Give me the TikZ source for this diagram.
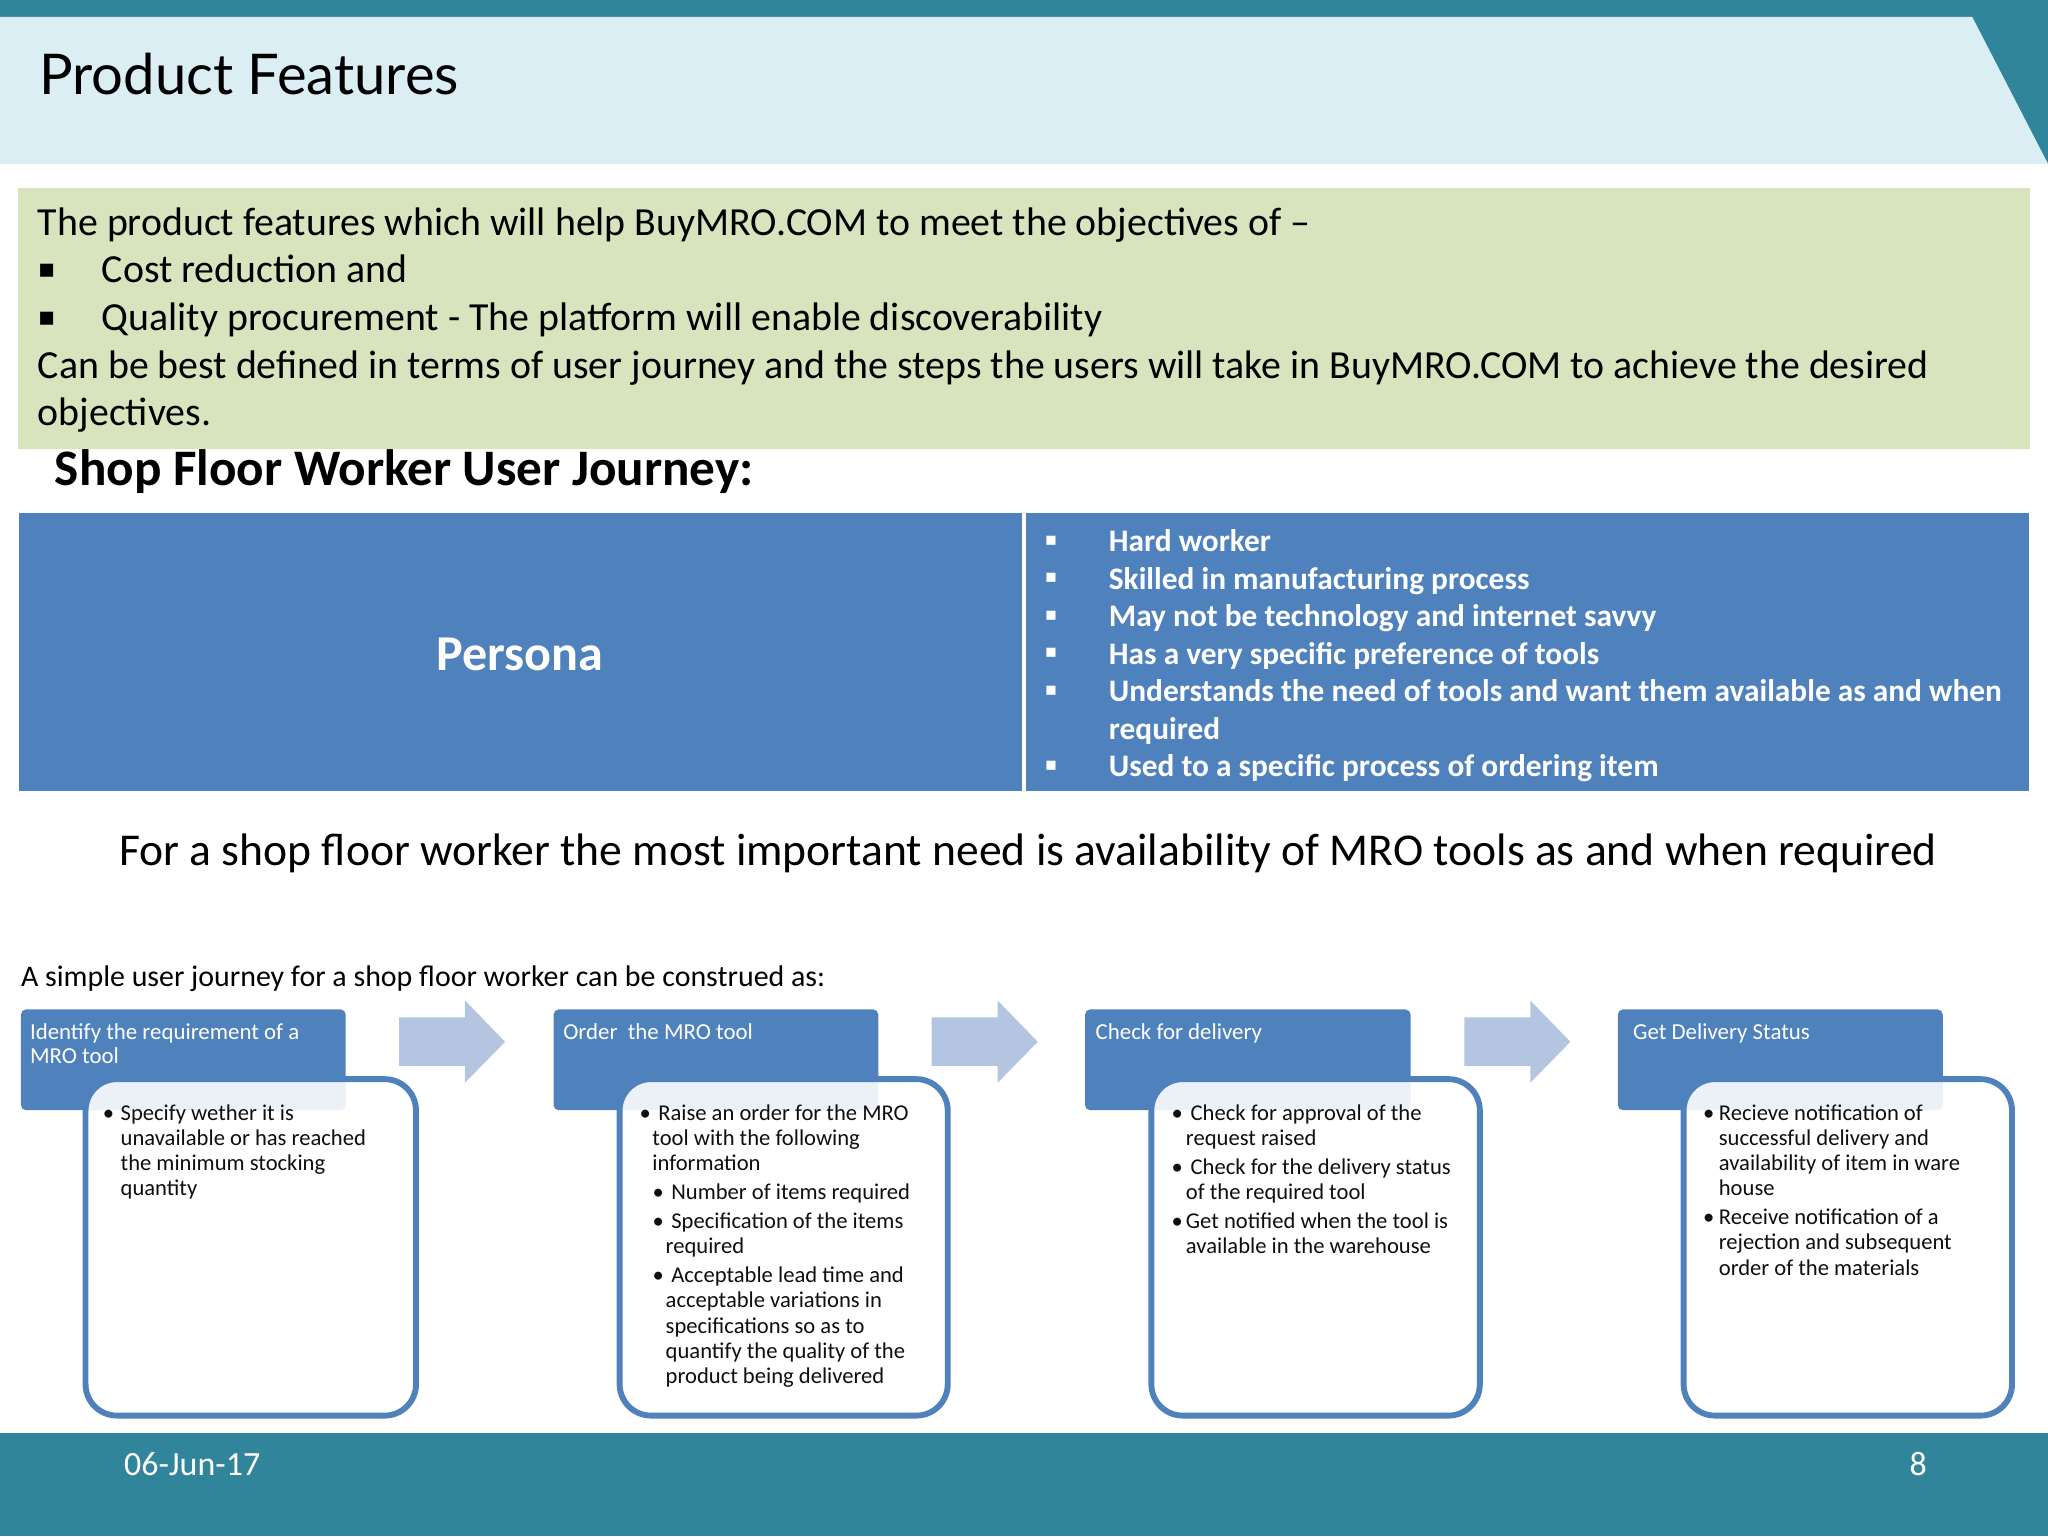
\documentclass[tikz,border=0pt]{standalone}
\usepackage{fontspec}
\setmainfont{Carlito}
\newfontfamily\symfont{DejaVu Sans}
\newfontfamily\titlefont{Lato}
\definecolor{teal}{RGB}{49,133,155}
\definecolor{lightband}{RGB}{219,238,244}
\definecolor{greenbox}{RGB}{215,228,189}
\definecolor{bluebox}{RGB}{79,129,189}
\definecolor{arrowc}{RGB}{180,197,225}
\definecolor{txtdark}{RGB}{15,15,15}
\newcommand{\sqbig}{\raisebox{3.9pt}{\symfont\fontsize{20}{20}\selectfont ▪}}
\newcommand{\sqsmall}{\raisebox{5pt}{\symfont\fontsize{14}{14}\selectfont ▪}}
\newcommand{\bu}[1]{\makebox[#1][l]{•}}
\begin{document}
\begin{tikzpicture}[x=1pt,y=-1pt,
  txt/.style={inner sep=0pt, outer sep=0pt},
  hdr/.style={fill=bluebox, rounded corners=4pt},
  wbox/.style={draw=bluebox, line width=4.5pt, fill=white, fill opacity=0.89, draw opacity=1, rounded corners=24pt},
  htxt/.style={txt, anchor=north west, align=left, text=white, font=\fontsize{17.5}{18.8}\selectfont},
  jtxt/.style={txt, anchor=north west, align=left, text=txtdark, font=\fontsize{17.3}{19.2}\selectfont},
  blockarrow/.style={fill=arrowc}
]
\useasboundingbox (0,0) rectangle (1568,1176);
% top bar and header band
\fill[teal] (0,0) rectangle (1568,13);
\fill[teal] (1505,12) -- (1568,12) -- (1568,125.5) -- cycle;
\fill[lightband] (0,13) -- (1510,13) -- (1568,125.5) -- (0,125.5) -- cycle;
\node[txt, anchor=base west, text=black, font=\titlefont\fontsize{43}{50}\selectfont] (title) at (30,72) {Product Features};
% green intro box
\fill[greenbox] (13.4,144) rectangle (1554,344);
\node[txt, anchor=north west, align=left, text=black, font=\fontsize{30.5}{36.5}\selectfont] (intro) at (29,154.45)
{\strut The product features which will help BuyMRO.COM to meet the objectives of –\\
\makebox[49pt][l]{\sqbig}Cost reduction and\\
\makebox[49pt][l]{\sqbig}Quality procurement - The platform will enable discoverability\\
Can be best defined in terms of user journey and the steps the users will take in BuyMRO.COM to achieve the desired\\
objectives.};
\node[txt, anchor=base west, text=black, font=\bfseries\fontsize{39.2}{46}\selectfont] (journeytitle) at (42,371.4) {Shop Floor Worker User Journey:};
% persona table
\fill[bluebox] (14.5,393) rectangle (782.7,605.4);
\fill[bluebox] (785.3,393) rectangle (1553.6,605.4);
\node[txt, anchor=base, text=white, font=\bfseries\fontsize{38.4}{46}\selectfont] (persona) at (398,513.5) {Persona};
\node[txt, anchor=north west, align=left, text=white, font=\bfseries\fontsize{24}{28.7}\selectfont] (traits) at (800,402.3)
{\strut\makebox[49pt][l]{\sqsmall}Hard worker\\
\makebox[49pt][l]{\sqsmall}Skilled in manufacturing process\\
\makebox[49pt][l]{\sqsmall}May not be technology and internet savvy\\
\makebox[49pt][l]{\sqsmall}Has a very specific preference of tools\\
\makebox[49pt][l]{\sqsmall}Understands the need of tools and want them available as and when\\
\hspace*{49pt}required\\
\makebox[49pt][l]{\sqsmall}Used to a specific process of ordering item};
\node[txt, anchor=base west, text=black, font=\fontsize{34.9}{40}\selectfont] (need) at (91.3,662.3) {For a shop floor worker the most important need is availability of MRO tools as and when required};
\node[txt, anchor=base west, text=black, font=\fontsize{22.9}{27}\selectfont] (simple) at (16.1,755.6) {A simple user journey for a shop floor worker can be construed as:};
% block arrows
\foreach \dx in {0,407.8,815.6}{
  \fill[blockarrow] (305.5+\dx,779) -- (356+\dx,779) -- (356+\dx,766) -- (386.7+\dx,797.6) -- (356+\dx,829) -- (356+\dx,816) -- (305.5+\dx,816) -- cycle;
}
% step 1
\fill[hdr] (16,772.8) rectangle (264.7,850);
\draw[wbox] (65.5,826.2) rectangle (318.5,1083.8);
\node[htxt] (h1) at (23,782.4) {\strut Identify the requirement of a\\MRO tool};
\node[jtxt] (t1) at (78.7,844.56) {\strut\bu{13.7pt}Specify wether it is\\
\hspace*{13.7pt}unavailable or has reached\\
\hspace*{13.7pt}the minimum stocking\\
\hspace*{13.7pt}quantity};
% step 2
\fill[hdr] (423.8,772.8) rectangle (672.5,850);
\draw[wbox] (474.4,826.2) rectangle (725.6,1083.8);
\node[htxt] (h2) at (431.3,782.4) {\strut Order\ \ the MRO tool};
\node[jtxt] (t2) at (489.7,844.56) {\strut\bu{14.3pt}Raise an order for the MRO\\
\hspace*{9.8pt}tool with the following\\
\hspace*{9.8pt}information\\[3pt]
\hspace*{10pt}\bu{14.3pt}Number of items required\\[3pt]
\hspace*{10pt}\bu{14.3pt}Specification of the items\\
\hspace*{20pt}required\\[3pt]
\hspace*{10pt}\bu{14.3pt}Acceptable lead time and\\
\hspace*{20pt}acceptable variations in\\
\hspace*{20pt}specifications so as to\\
\hspace*{20pt}quantify the quality of the\\
\hspace*{20pt}product being delivered};
% step 3
\fill[hdr] (830.7,772.8) rectangle (1080,850);
\draw[wbox] (881.5,826.2) rectangle (1133,1083.8);
\node[htxt] (h3) at (838.9,782.4) {\strut Check for delivery};
\node[jtxt] (t3) at (897,844.56) {\strut\bu{14.6pt}Check for approval of the\\
\hspace*{11pt}request raised\\[3pt]
\bu{14.6pt}Check for the delivery status\\
\hspace*{11pt}of the required tool\\[3pt]
\bu{11pt}Get notified when the tool is\\
\hspace*{11pt}available in the warehouse};
% step 4
\fill[hdr] (1238.6,772.8) rectangle (1487.4,850);
\draw[wbox] (1289,826.2) rectangle (1540.4,1083.8);
\node[htxt] (h4) at (1250.4,782.4) {\strut Get Delivery Status};
\node[jtxt] (t4) at (1304,844.56) {\strut\bu{12pt}Recieve notification of\\
\hspace*{12pt}successful delivery and\\
\hspace*{12pt}availability of item in ware\\
\hspace*{12pt}house\\[3pt]
\bu{12pt}Receive notification of a\\
\hspace*{12pt}rejection and subsequent\\
\hspace*{12pt}order of the materials};
% footer
\fill[teal] (0,1097.5) rectangle (1568,1176);
\node[txt, anchor=base west, text=white, font=\fontsize{26}{30}\selectfont] (date) at (95,1130) {06-Jun-17};
\node[txt, anchor=base west, text=white, font=\fontsize{26}{30}\selectfont] (page) at (1462,1130) {8};
\end{tikzpicture}
\end{document}
